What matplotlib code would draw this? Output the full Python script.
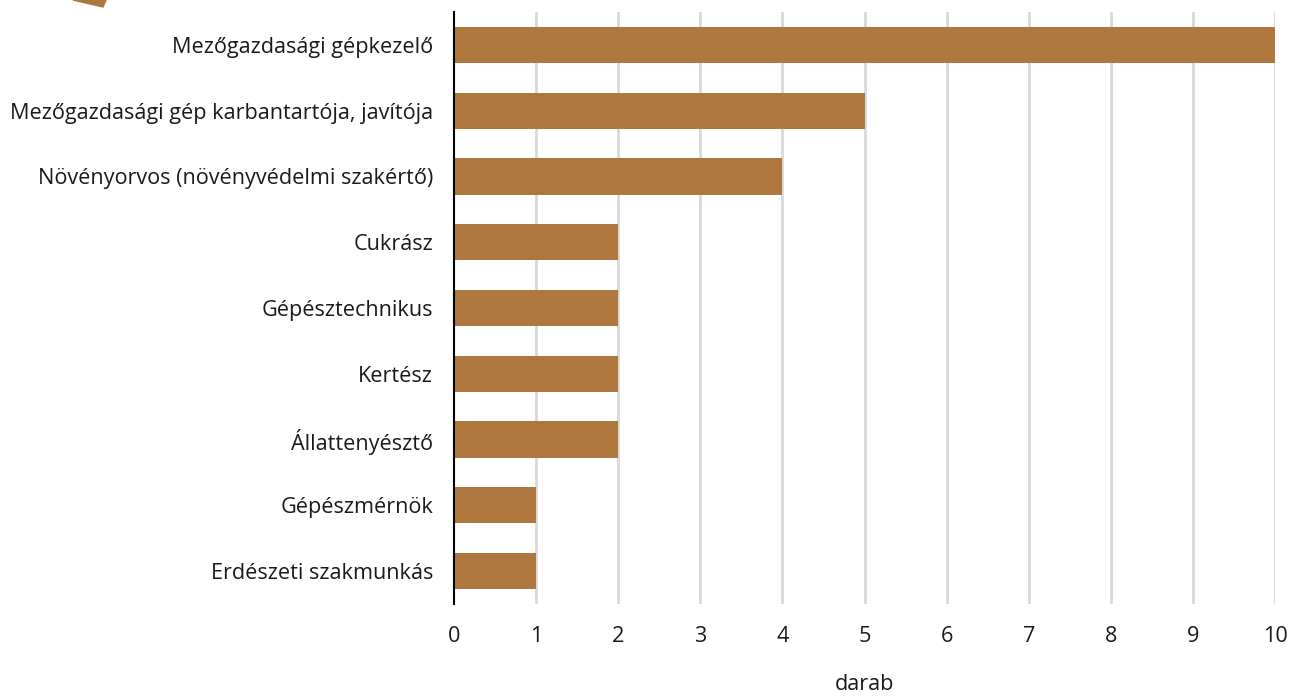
import matplotlib
matplotlib.use("Agg")
import matplotlib.pyplot as plt
from matplotlib.patches import Polygon

plt.rcParams['font.family'] = ['Open Sans', 'DejaVu Sans']

categories = ['Mezőgazdasági gépkezelő',
              'Mezőgazdasági gép karbantartója, javítója',
              'Növényorvos (növényvédelmi szakértő)',
              'Cukrász',
              'Gépésztechnikus',
              'Kertész',
              'Állattenyésztő',
              'Gépészmérnök',
              'Erdészeti szakmunkás']
values = [10, 5, 4, 2, 2, 2, 2, 1, 1]
xticks = list(range(0, 11))

BAR = '#AD773D'
FS = 15.6

fig = plt.figure(figsize=(12.9, 6.97), dpi=100)
ax = fig.add_axes([454 / 1290, 1 - 604 / 697, (1275 - 454) / 1290, (604 - 12) / 697])

ypos = list(range(len(categories)))
ax.barh(ypos, values, height=0.55, color=BAR, zorder=3)
ax.set_ylim(len(categories) - 0.5, -0.5)
ax.set_xlim(0, 10)
ax.set_yticks(ypos)
ax.set_yticklabels(categories, fontsize=FS, color='#1a1a1a')
ax.set_xticks(xticks)
ax.set_xticklabels([str(t) for t in xticks], fontsize=FS, color='#1a1a1a')
ax.tick_params(axis='both', length=0)
ax.tick_params(axis='y', pad=15)
ax.tick_params(axis='x', pad=16)

for t in xticks[1:]:
    ax.axvline(t, color='#d9d9d9', lw=2, zorder=1)

for s in ['top', 'right', 'bottom']:
    ax.spines[s].set_visible(False)
ax.spines['left'].set_color('black')
ax.spines['left'].set_linewidth(1.5)
ax.spines['left'].set_zorder(4)

ax.set_xlabel('darab', fontsize=FS, color='#1a1a1a', labelpad=19)

# small decorative corner shape
fig.patches.append(Polygon([(73 / 1290, 1.0), (106 / 1290, 1.0), (103 / 1290, 1 - 7 / 697)],
                           closed=True, transform=fig.transFigure, color=BAR))

fig.savefig('out.png', dpi=100)
